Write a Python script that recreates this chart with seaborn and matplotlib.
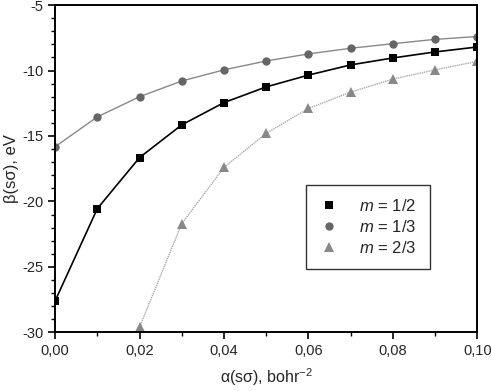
import pandas as pd
import matplotlib
matplotlib.use('Agg')
import matplotlib.pyplot as plt
from matplotlib.ticker import MultipleLocator, FuncFormatter
import seaborn as sns

# values
alpha = [0.00, 0.01, 0.02, 0.03, 0.04, 0.05, 0.06, 0.07, 0.08, 0.09, 0.10]
beta_half = [-27.6, -20.55, -16.65, -14.15, -12.45, -11.25, -10.35, -9.57, -9.04, -8.58, -8.2]
beta_third = [-15.82, -13.54, -12.0, -10.8, -9.95, -9.27, -8.73, -8.3, -7.95, -7.62, -7.4]
alpha_23 = [0.02, 0.03, 0.04, 0.05, 0.06, 0.07, 0.08, 0.09, 0.10]
beta_two_thirds = [-29.6, -21.7, -17.4, -14.8, -12.9, -11.65, -10.65, -9.95, -9.3]
labels = ['$m$ = 1/2', '$m$ = 1/3', '$m$ = 2/3']

sns.set_style('ticks')
plt.rcParams['font.family'] = ['Liberation Sans', 'DejaVu Sans']
plt.rcParams['mathtext.fontset'] = 'custom'
plt.rcParams['mathtext.it'] = 'Liberation Sans:italic'
plt.rcParams['mathtext.rm'] = 'Liberation Sans'

fig = plt.figure(figsize=(4.92, 3.91), dpi=100)
ax = fig.add_axes([0.112, 0.15, 0.858, 0.837])

df1 = pd.DataFrame({'a': alpha, 'b': beta_half})
df2 = pd.DataFrame({'a': alpha, 'b': beta_third})
df3 = pd.DataFrame({'a': alpha_23, 'b': beta_two_thirds})

sns.lineplot(data=df1, x='a', y='b', ax=ax, color='black', lw=1.2,
             marker='s', markersize=6, markeredgewidth=0, label=labels[0])
sns.lineplot(data=df2, x='a', y='b', ax=ax, color='#888888', lw=1.0,
             marker='o', markersize=6, markeredgewidth=0,
             markerfacecolor='#666666', label=labels[1])
sns.lineplot(data=df3, x='a', y='b', ax=ax, color='#aaaaaa', lw=1.0, ls=(0, (1, 0.6)),
             marker='^', markersize=6.5, markeredgewidth=0,
             markerfacecolor='#888888', label=labels[2])

ax.set_xlim(0, 0.10)
ax.set_ylim(-30, -5)
ax.xaxis.set_major_locator(MultipleLocator(0.02))
ax.xaxis.set_minor_locator(MultipleLocator(0.01))
ax.yaxis.set_major_locator(MultipleLocator(5))
ax.yaxis.set_minor_locator(MultipleLocator(1))
ax.xaxis.set_major_formatter(FuncFormatter(lambda v, p: f'{v:.2f}'.replace('.', ',')))
ax.yaxis.set_major_formatter(FuncFormatter(lambda v, p: f'{v:.0f}'))
ax.tick_params(which='major', length=5, width=1.2, labelsize=10.5, color='black')
ax.tick_params(which='minor', length=3, width=1.0, color='black')

for s in ax.spines.values():
    s.set_linewidth(1.4)
    s.set_color('black')

ax.set_xlabel(r'α(sσ), bohr$^{-2}$', fontsize=11.5, labelpad=6)
ax.set_ylabel('β(sσ), eV', fontsize=12, labelpad=2)

leg = ax.legend(loc='upper left', bbox_to_anchor=(0.575, 0.477), fontsize=12,
                frameon=True, fancybox=False, edgecolor='black',
                handlelength=1.2, handletextpad=1.2, borderpad=0.8,
                labelspacing=0.3)
leg.get_frame().set_linewidth(1.0)
for h in leg.get_lines():
    h.set_linestyle('none')

fig.savefig('out.png', dpi=100)
